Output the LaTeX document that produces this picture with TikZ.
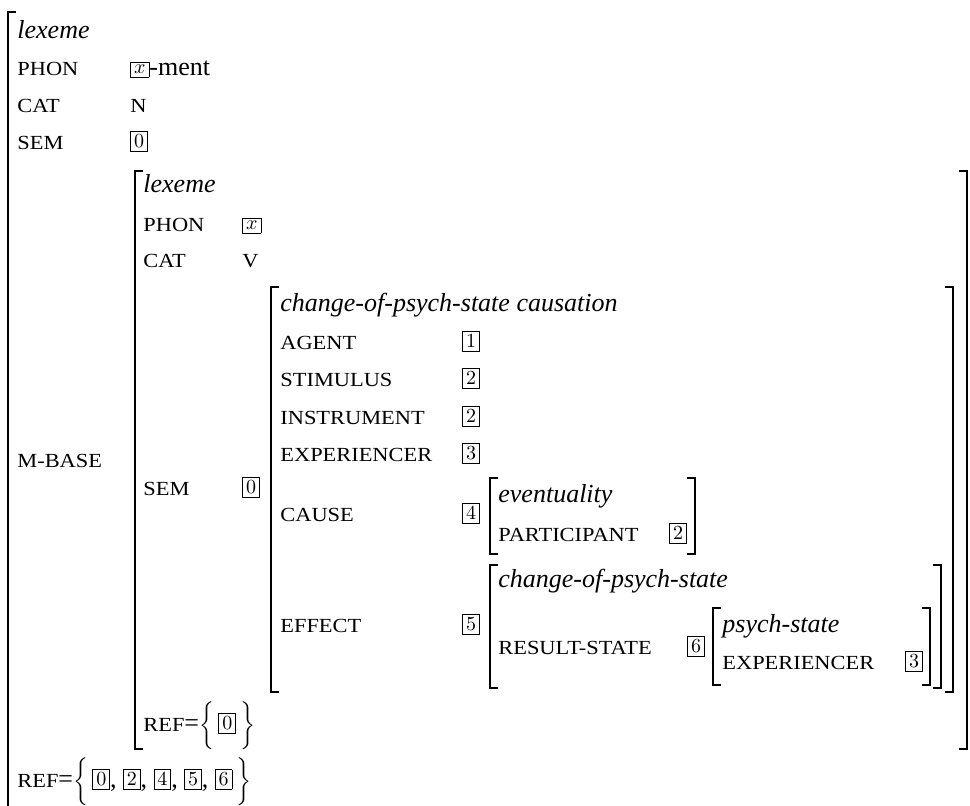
\RequirePackage{fix-cm}
\documentclass[tikz,border=0pt]{standalone}
\usepackage[no-math]{fontspec}
\setmainfont{Liberation Serif}
\newfontfamily\lblfamily[FakeStretch=1.12]{Liberation Serif}

% type names (italic), feature labels (wide capitals), plain values
\newcommand\typf{\fontsize{13}{15}\selectfont\itshape}
\newcommand\txtf{\fontsize{13}{15}\selectfont}
\newcommand\lblf{\lblfamily\fontsize{10}{12}\selectfont}

% boxed structure-sharing tag
\newcommand\tagbox[1]{{\setlength\fboxsep{1.5pt}\setlength\fboxrule{0.4pt}%
  \raisebox{1pt}{\fbox{\fontsize{10}{12}\selectfont$#1$}}}}

% opening and closing square brackets of an attribute-value matrix
\newcommand\avmL[3]{\draw[brk] ({#1+8},#2) -| (#1,#3) -- ({#1+8},#3);}
\newcommand\avmR[3]{\draw[brk] ({#1-8},#2) -| (#1,#3) -- ({#1-8},#3);}

\tikzset{
  typ/.style={anchor=base west, inner sep=0pt, font=\typf},
  lbl/.style={anchor=base west, inner sep=0pt, font=\lblf},
  val/.style={anchor=base west, inner sep=0pt, font=\txtf},
  brk/.style={line width=1pt, line cap=butt, line join=miter}
}

\begin{document}
\begin{tikzpicture}[x=0.5pt, y=-0.5pt]
  \fill[white] (0,0) rectangle (970,806);
  \useasboundingbox (0,0) rectangle (970,806);

  % outer lexeme
  \avmL{8}{12}{812}
  \node[typ] (lexA)  at (17,39)  {lexeme};
  \node[lbl] (phonA) at (17,76)  {PHON};
  \node[val] (phonAv) at (130,76) {\tagbox{x}-ment};
  \node[lbl] (catA)  at (17,113) {CAT};
  \node[lbl] (catAv) at (130,113) {N};
  \node[lbl] (semA)  at (17,150) {SEM};
  \node[val] (semAv) at (130,150) {\tagbox{0}};
  \node[lbl] (mbase) at (17,468) {M-BASE};

  % morphological base
  \avmL{135}{171}{749}
  \avmR{967}{171}{749}
  \node[typ] (lexB)  at (143,193) {lexeme};
  \node[lbl] (phonB) at (143,232) {PHON};
  \node[val] (phonBv) at (242,232) {\tagbox{x}};
  \node[lbl] (catB)  at (143,268) {CAT};
  \node[lbl] (catBv) at (242,268) {V};
  \node[lbl] (semB)  at (143,496) {SEM};
  \node[val] (semBv) at (242,496) {\tagbox{0}};

  % semantics of the base
  \avmL{271}{287}{692}
  \avmR{953}{287}{692}
  \node[typ] (cpsc)  at (280,312) {change-of-psych-state causation};
  \node[lbl] (agent) at (280,350) {AGENT};
  \node[val] (agentv) at (462,350) {\tagbox{1}};
  \node[lbl] (stim)  at (280,387) {STIMULUS};
  \node[val] (stimv) at (462,387) {\tagbox{2}};
  \node[lbl] (instr) at (280,425) {INSTRUMENT};
  \node[val] (instrv) at (462,425) {\tagbox{2}};
  \node[lbl] (exp)   at (280,462) {EXPERIENCER};
  \node[val] (expv)  at (462,462) {\tagbox{3}};
  \node[lbl] (cause) at (280,522) {CAUSE};
  \node[val] (causev) at (462,522) {\tagbox{4}};
  \node[lbl] (effect) at (280,633) {EFFECT};
  \node[val] (effectv) at (462,633) {\tagbox{5}};

  % cause
  \avmL{490}{478}{554}
  \avmR{695}{478}{554}
  \node[typ] (event) at (498,503) {eventuality};
  \node[lbl] (part)  at (498,542) {PARTICIPANT};
  \node[val] (partv) at (669,542) {\tagbox{2}};

  % effect
  \avmL{490}{565}{688}
  \avmR{941}{565}{688}
  \node[typ] (cps)   at (498,588) {change-of-psych-state};
  \node[lbl] (rs)    at (498,655) {RESULT-STATE};
  \node[val] (rsv)   at (687,655) {\tagbox{6}};

  % result state
  \avmL{713}{608}{685}
  \avmR{930}{608}{685}
  \node[typ] (ps)    at (722,633) {psych-state};
  \node[lbl] (exp2)  at (722,670) {EXPERIENCER};
  \node[val] (exp2v) at (905,670) {\tagbox{3}};

  % reference sets
  \node[val] (refB) at (143,732) {{\lblf REF}=$\bigg\{$\,\tagbox{0}\,$\bigg\}$};
  \node[val] (refA) at (17,788) {{\lblf REF}=$\bigg\{$\,\tagbox{0}, \tagbox{2}, \tagbox{4}, \tagbox{5}, \tagbox{6}\,$\bigg\}$};
\end{tikzpicture}
\end{document}
